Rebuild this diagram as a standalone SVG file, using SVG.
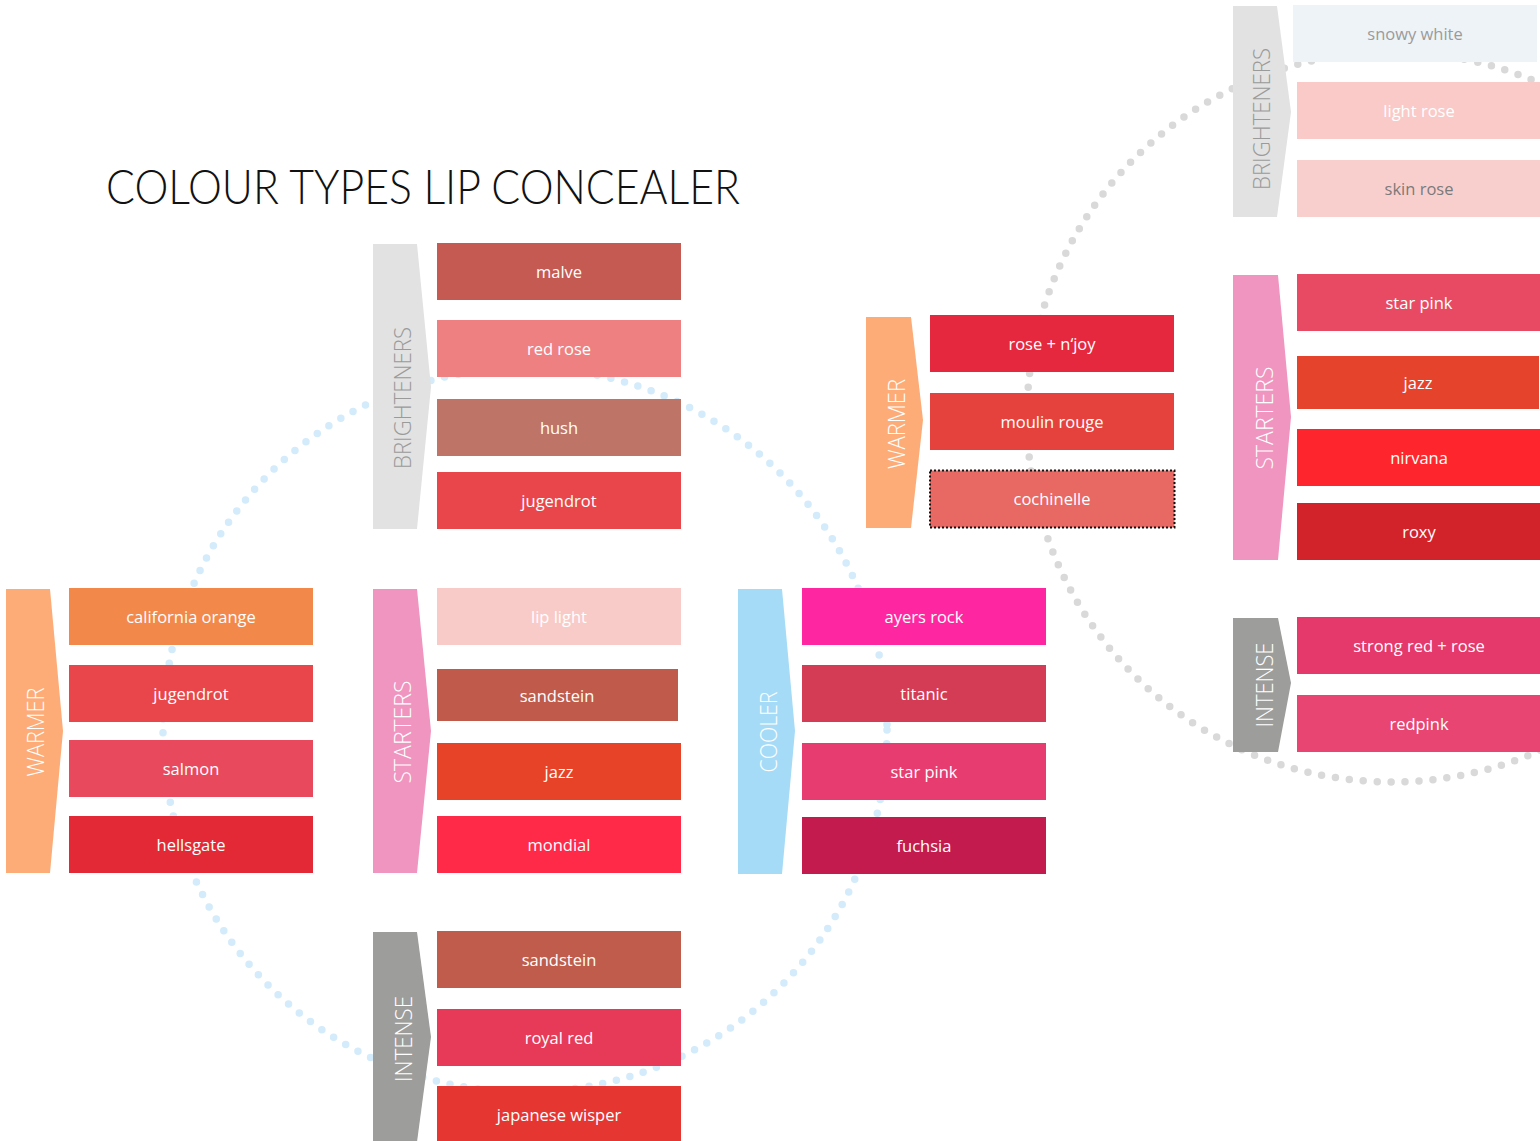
<svg xmlns="http://www.w3.org/2000/svg" width="1540" height="1141" viewBox="0 0 1540 1141">
<style>
.bt{font-family:"Open Sans","Noto Sans","DejaVu Sans",sans-serif;font-size:16.5px;fill:#ffffff;text-anchor:middle}
.lb{font-family:"Open Sans","Noto Sans","DejaVu Sans",sans-serif;font-size:24px;font-weight:300;fill:#ffffff;text-anchor:middle}
.lbg{fill:#9a9a9a}
.dots{fill:none;stroke-width:7.5;stroke-linecap:round;stroke-dasharray:0 14}
</style>
<rect width="1540" height="1141" fill="#ffffff"/>
<g id="connectors">
<circle class="dots" cx="525" cy="730" r="362" stroke="#d3ebfa"/>
<circle class="dots" cx="1392" cy="417" r="365" stroke="#d9d9d9"/>
</g>
<text x="106" y="204" font-family="Lato, 'Open Sans', sans-serif" font-weight="300" font-size="47" fill="#111111" textLength="634" lengthAdjust="spacingAndGlyphs">COLOUR TYPES LIP CONCEALER</text>

<g id="mid-brighteners">
<polygon points="373,244 417,244 431,387 417,529 373,529" fill="#e2e2e2"/>
<text class="lb lbg" transform="translate(402,398) rotate(-90)" y="8.5" textLength="142" lengthAdjust="spacingAndGlyphs">BRIGHTENERS</text>
<rect x="437" y="243" width="244" height="57" fill="#c45a51"/><text class="bt" x="559" y="278">malve</text>
<rect x="437" y="320" width="244" height="57" fill="#ef8081"/><text class="bt" x="559" y="355">red rose</text>
<rect x="437" y="399" width="244" height="57" fill="#be7467"/><text class="bt" x="559" y="434">hush</text>
<rect x="437" y="472" width="244" height="57" fill="#e9464c"/><text class="bt" x="559" y="507">jugendrot</text>
</g>

<g id="left-warmer">
<polygon points="6,589 50,589 63,731 50,873 6,873" fill="#fdac78"/>
<text class="lb" transform="translate(35,732) rotate(-90)" y="8.5" textLength="89" lengthAdjust="spacingAndGlyphs">WARMER</text>
<rect x="69" y="588" width="244" height="57" fill="#f2884a"/><text class="bt" x="191" y="623">california orange</text>
<rect x="69" y="665" width="244" height="57" fill="#e9464c"/><text class="bt" x="191" y="700">jugendrot</text>
<rect x="69" y="740" width="244" height="57" fill="#e9495c"/><text class="bt" x="191" y="775">salmon</text>
<rect x="69" y="816" width="244" height="57" fill="#e32935"/><text class="bt" x="191" y="851">hellsgate</text>
</g>

<g id="mid-starters">
<polygon points="373,589 417,589 431,731 417,873 373,873" fill="#f095bf"/>
<text class="lb" transform="translate(402,732) rotate(-90)" y="8.5" textLength="103" lengthAdjust="spacingAndGlyphs">STARTERS</text>
<rect x="437" y="588" width="244" height="57" fill="#f9cbc8"/><text class="bt" x="559" y="623">lip light</text>
<rect x="437" y="669" width="241" height="52" fill="#c05b4b"/><text class="bt" x="557" y="702">sandstein</text>
<rect x="437" y="743" width="244" height="57" fill="#e64329"/><text class="bt" x="559" y="778">jazz</text>
<rect x="437" y="816" width="244" height="57" fill="#ff2a48"/><text class="bt" x="559" y="851">mondial</text>
</g>

<g id="cooler">
<polygon points="738,589 782,589 795,731 782,874 738,874" fill="#a6dbf7"/>
<text class="lb" transform="translate(768,732) rotate(-90)" y="8.5" textLength="81" lengthAdjust="spacingAndGlyphs">COOLER</text>
<rect x="802" y="588" width="244" height="57" fill="#ff26a1"/><text class="bt" x="924" y="623">ayers rock</text>
<rect x="802" y="665" width="244" height="57" fill="#d43c55"/><text class="bt" x="924" y="700">titanic</text>
<rect x="802" y="743" width="244" height="57" fill="#e63c6f"/><text class="bt" x="924" y="778">star pink</text>
<rect x="802" y="817" width="244" height="57" fill="#c41b4f"/><text class="bt" x="924" y="852">fuchsia</text>
</g>

<g id="mid-intense">
<polygon points="373,932 417,932 431,1037 417,1142 373,1142" fill="#9d9d9c"/>
<text class="lb" transform="translate(403,1039) rotate(-90)" y="8.5" textLength="86" lengthAdjust="spacingAndGlyphs">INTENSE</text>
<rect x="437" y="931" width="244" height="57" fill="#bf5c4b"/><text class="bt" x="559" y="966">sandstein</text>
<rect x="437" y="1009" width="244" height="57" fill="#e63a58"/><text class="bt" x="559" y="1044">royal red</text>
<rect x="437" y="1086" width="244" height="55" fill="#e53632"/><text class="bt" x="559" y="1121">japanese wisper</text>
</g>

<g id="right-warmer">
<polygon points="866,317 911,317 923,420 911,528 866,528" fill="#fdac78"/>
<text class="lb" transform="translate(896,424) rotate(-90)" y="8.5" textLength="90" lengthAdjust="spacingAndGlyphs">WARMER</text>
<rect x="930" y="315" width="244" height="57" fill="#e5283d"/><text class="bt" x="1052" y="350">rose + n‘joy</text>
<rect x="930" y="393" width="244" height="57" fill="#e6423d"/><text class="bt" x="1052" y="428">moulin rouge</text>
<rect x="930" y="470.5" width="244.5" height="57" fill="#e86863" stroke="#111111" stroke-width="2" stroke-dasharray="2 2"/><text class="bt" x="1052" y="505">cochinelle</text>
</g>

<g id="right-brighteners">
<polygon points="1233,6 1277,6 1291,112 1277,217 1233,217" fill="#e2e2e2"/>
<text class="lb lbg" transform="translate(1261,119) rotate(-90)" y="8.5" textLength="142" lengthAdjust="spacingAndGlyphs">BRIGHTENERS</text>
<rect x="1293" y="5" width="244" height="57" fill="#eef3f7"/><text class="bt" x="1415" y="40" fill="#9b9b9b" style="fill:#9b9b9b">snowy white</text>
<rect x="1297" y="82" width="243" height="57" fill="#f9cac8"/><text class="bt" x="1419" y="117">light rose</text>
<rect x="1297" y="160" width="243" height="57" fill="#f9cfce"/><text class="bt" x="1419" y="195" style="fill:#7a7a7a">skin rose</text>
</g>

<g id="right-starters">
<polygon points="1233,275 1278,275 1291,417 1278,560 1233,560" fill="#f095bf"/>
<text class="lb" transform="translate(1264,418) rotate(-90)" y="8.5" textLength="103" lengthAdjust="spacingAndGlyphs">STARTERS</text>
<rect x="1297" y="274" width="243" height="57" fill="#e94a63"/><text class="bt" x="1419" y="309">star pink</text>
<rect x="1297" y="356" width="242" height="53" fill="#e5432b"/><text class="bt" x="1418" y="389">jazz</text>
<rect x="1297" y="429" width="243" height="57" fill="#fe262c"/><text class="bt" x="1419" y="464">nirvana</text>
<rect x="1297" y="503" width="243" height="57" fill="#d3232a"/><text class="bt" x="1419" y="538">roxy</text>
</g>

<g id="right-intense">
<polygon points="1233,618 1278,618 1291,683 1278,752 1233,752" fill="#9d9d9c"/>
<text class="lb" transform="translate(1264,685) rotate(-90)" y="8.5" textLength="85" lengthAdjust="spacingAndGlyphs">INTENSE</text>
<rect x="1297" y="617" width="243" height="57" fill="#e5386b"/><text class="bt" x="1419" y="652">strong red + rose</text>
<rect x="1297" y="695" width="243" height="57" fill="#e84573"/><text class="bt" x="1419" y="730">redpink</text>
</g>
</svg>
